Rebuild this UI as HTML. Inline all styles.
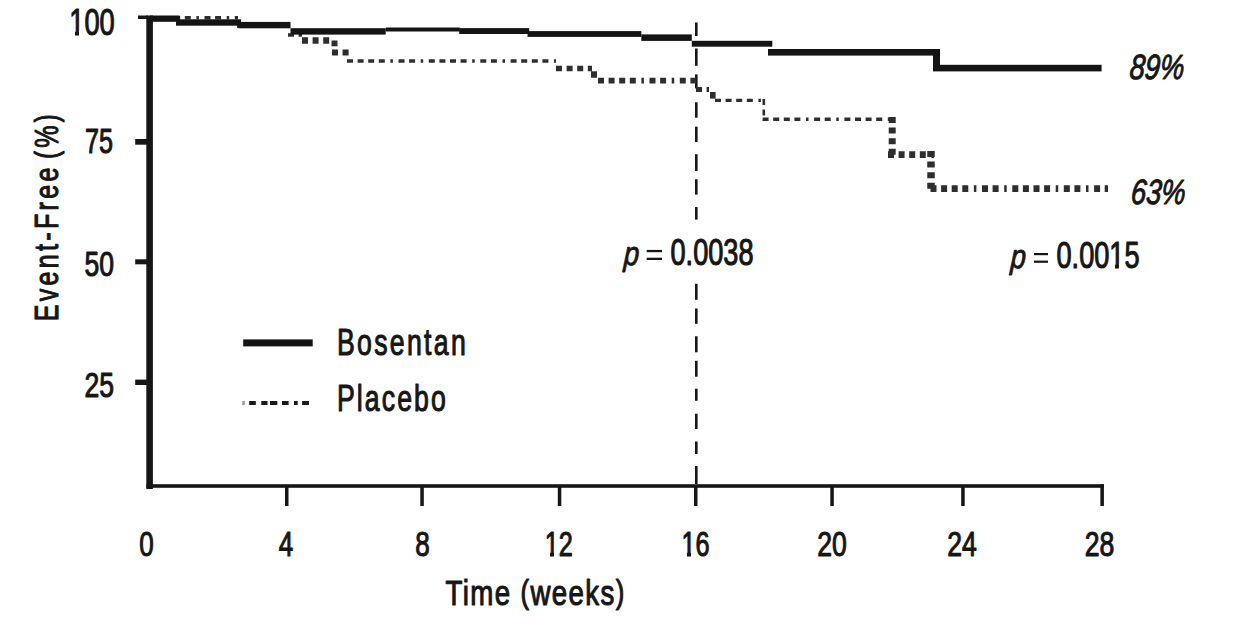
<!DOCTYPE html>
<html><head><meta charset="utf-8">
<style>
html,body{margin:0;padding:0;background:#fff;width:1234px;height:624px;overflow:hidden}
svg{position:absolute;left:0;top:0}
text{font-family:"Liberation Sans",sans-serif;fill:#161616;stroke:#161616;stroke-width:1.1;stroke-linejoin:round}
</style></head><body>
<svg width="1234" height="624" viewBox="0 0 1234 624">
<!-- axes -->
<g fill="#161616">
<rect x="146.3" y="15.5" width="6.6" height="473.5"/>
<rect x="146.3" y="484.2" width="957.6" height="3.6"/>
<!-- y ticks -->
<rect x="138" y="15.5" width="10" height="3.5"/>
<rect x="135.2" y="139" width="12" height="5.7"/>
<rect x="135.2" y="259.3" width="12" height="5"/>
<rect x="135.2" y="379.6" width="12" height="5.4"/>
<!-- x ticks -->
<rect x="285" y="486" width="3.5" height="20"/>
<rect x="420.3" y="486" width="3.5" height="20"/>
<rect x="557.8" y="486" width="3.5" height="20"/>
<rect x="694" y="486" width="3.5" height="20"/>
<rect x="830.3" y="486" width="3.5" height="20"/>
<rect x="961.2" y="486" width="3.5" height="20"/>
<rect x="1100.4" y="484.2" width="3.5" height="21.8"/>
</g>
<!-- dashed vertical line at 16 weeks -->
<g fill="#161616">
<rect x="695" y="22.5" width="2.6" height="13.5"/>
<rect x="695" y="48.5" width="2.6" height="17.3"/>
<rect x="695" y="74.4" width="2.6" height="14"/>
<rect x="695" y="102.3" width="2.6" height="15.4"/>
<rect x="695" y="126.7" width="2.6" height="15.4"/>
<rect x="695" y="154.2" width="2.6" height="16.8"/>
<rect x="695" y="179.2" width="2.6" height="15.4"/>
<rect x="695" y="207" width="2.6" height="12.6"/>
<rect x="695" y="283.8" width="2.6" height="16"/>
<rect x="695" y="308.5" width="2.6" height="15.3"/>
<rect x="695" y="336.3" width="2.6" height="16"/>
<rect x="695" y="360.8" width="2.6" height="15.9"/>
<rect x="695" y="388.7" width="2.6" height="12.1"/>
<rect x="695" y="413.7" width="2.6" height="15.3"/>
<rect x="695" y="441.5" width="2.6" height="12.5"/>
<rect x="695" y="466" width="2.6" height="18"/>
</g>
<!-- placebo curve -->
<g fill="none" stroke="#2e2e2e" stroke-dasharray="6 4.6 6 4.6 6 4.6 6 5.6 2.5 5.6 6 4.6 6 5.6 2.5 5.6">
<line x1="153" y1="17.8" x2="238" y2="17.8" stroke-width="3.5"/>
<line x1="237" y1="25" x2="290" y2="25" stroke-width="6"/>
<line x1="288" y1="35" x2="302" y2="35" stroke-width="3.5"/>
<line x1="302" y1="40.5" x2="332" y2="40.5" stroke-width="6.5"/>
<line x1="331.5" y1="43.4" x2="339" y2="43.4" stroke-width="5.8"/>
<line x1="332" y1="52.5" x2="351" y2="52.5" stroke-width="5.9"/>
<line x1="347" y1="61" x2="556" y2="61" stroke-width="3.4"/>
<line x1="556" y1="68.5" x2="592" y2="68.5" stroke-width="5.7"/>
<line x1="591" y1="74.5" x2="598" y2="74.5" stroke-width="6.5"/>
<line x1="598" y1="80.6" x2="696" y2="80.6" stroke-width="5.8"/>
<line x1="696" y1="89.5" x2="709" y2="89.5" stroke-width="5"/>
<line x1="710" y1="95.3" x2="715.6" y2="95.3" stroke-width="6.6"/>
<line x1="715" y1="100.4" x2="763" y2="100.4" stroke-width="3.4"/>
<line x1="763.8" y1="99" x2="763.8" y2="121" stroke-width="2.6"/>
<line x1="762.6" y1="119.2" x2="896" y2="119.2" stroke-width="3.4"/>
<line x1="892.2" y1="117" x2="892.2" y2="157" stroke-width="7"/>
<line x1="888" y1="154.6" x2="934" y2="154.6" stroke-width="6.7"/>
<line x1="931" y1="151" x2="931" y2="191" stroke-width="7.5"/>
<line x1="930.5" y1="188.6" x2="1108" y2="188.6" stroke-width="6.9"/>
</g>
<!-- bosentan curve -->
<g fill="#141414">
<rect x="150" y="15.5" width="29.6" height="6.3"/>
<rect x="176" y="19.3" width="65" height="6.4"/>
<rect x="238.5" y="21.9" width="52" height="6.4"/>
<rect x="290.5" y="28.2" width="95.2" height="6.4"/>
<rect x="385.7" y="27.5" width="74" height="4"/>
<rect x="459.2" y="28.1" width="70" height="5.9"/>
<rect x="527.5" y="31.1" width="113.8" height="5.8"/>
<rect x="641.3" y="34.4" width="50.5" height="6.5"/>
<rect x="691.8" y="40.8" width="80.5" height="5.9"/>
<rect x="768" y="49" width="171.5" height="6.6"/>
<rect x="933" y="49" width="7" height="22"/>
<rect x="933" y="64.8" width="168.6" height="6.6"/>
</g>
<!-- legend -->
<rect x="243.2" y="339.4" width="69.5" height="7" fill="#141414"/>
<g fill="#1a1a1a">
<rect x="242.3" y="401" width="2.5" height="4" fill="#999"/>
<rect x="249.2" y="401" width="6.6" height="4"/>
<rect x="261.3" y="401" width="6.2" height="4"/>
<rect x="270" y="401" width="7.3" height="4"/>
<rect x="282" y="401" width="6.6" height="4"/>
<rect x="294" y="401" width="3.7" height="4"/>
<rect x="302.1" y="401" width="6.9" height="4"/>
</g>
<!-- texts -->
<text x="139.3" y="555.9" font-size="35.3" textLength="14.5" lengthAdjust="spacingAndGlyphs">0</text>
<text x="278.8" y="555.9" font-size="35.3" textLength="14.5" lengthAdjust="spacingAndGlyphs">4</text>
<text x="415.3" y="555.9" font-size="35.3" textLength="14.5" lengthAdjust="spacingAndGlyphs">8</text>
<text x="544.7" y="555.9" font-size="35.3" textLength="28.1" lengthAdjust="spacingAndGlyphs">12</text>
<text x="681.5" y="555.9" font-size="35.3" textLength="28.1" lengthAdjust="spacingAndGlyphs">16</text>
<text x="817.2" y="555.9" font-size="35.3" textLength="29.6" lengthAdjust="spacingAndGlyphs">20</text>
<text x="947.2" y="555.9" font-size="35.3" textLength="29.6" lengthAdjust="spacingAndGlyphs">24</text>
<text x="1084.7" y="555.9" font-size="35.3" textLength="29.6" lengthAdjust="spacingAndGlyphs">28</text>
<text x="69.3" y="35.2" font-size="36" textLength="45.5" lengthAdjust="spacingAndGlyphs">100</text>
<text x="85" y="153.3" font-size="35" textLength="28" lengthAdjust="spacingAndGlyphs">75</text>
<text x="84.5" y="276.4" font-size="35" textLength="29.5" lengthAdjust="spacingAndGlyphs">50</text>
<text x="84.5" y="396.6" font-size="35" textLength="29.5" lengthAdjust="spacingAndGlyphs">25</text>
<text transform="translate(58.3,321.3) rotate(-90) scale(0.74,1)" font-size="34" letter-spacing="4.4">Event-Free <tspan dx="-6.4" font-size="31.5" dy="-1.2">(</tspan><tspan dy="1.2">%</tspan><tspan font-size="31.5" dy="-1.2">)</tspan></text>
<text transform="translate(445.5,604.8) scale(0.78,1)" font-size="35.5" letter-spacing="1.75">Time <tspan font-size="33" dy="-1.5">(</tspan><tspan dy="1.5">weeks</tspan><tspan font-size="33" dy="-1.5">)</tspan></text>
<text transform="translate(336.9,354.5) scale(0.73,1)" font-size="36.5" letter-spacing="3.2">Bosentan</text>
<text transform="translate(336.9,410.8) scale(0.73,1)" font-size="36.5" letter-spacing="2.9">Placebo</text>
<text transform="translate(623.5,264.5) skewX(-3) scale(0.82,1)" font-size="33.5" font-style="italic" style="stroke-width:0.9">p</text>
<rect x="646.7" y="249.9" width="15.3" height="2.3" fill="#161616"/>
<rect x="646.7" y="257.7" width="15.3" height="2.3" fill="#161616"/>
<text x="670.5" y="265" font-size="36" textLength="83" lengthAdjust="spacingAndGlyphs">0.0038</text>
<text transform="translate(1010.3,267.7) skewX(-3) scale(0.82,1)" font-size="33.5" font-style="italic" style="stroke-width:0.9">p</text>
<rect x="1034" y="253" width="14" height="2.2" fill="#161616"/>
<rect x="1034" y="260.6" width="14" height="2.2" fill="#161616"/>
<text x="1056.5" y="268" font-size="36" textLength="83" lengthAdjust="spacingAndGlyphs">0.0015</text>
<text transform="translate(1128.9,79.4) skewX(-5)" font-size="35" font-style="italic" style="stroke-width:1" textLength="54.5" lengthAdjust="spacingAndGlyphs">89%</text>
<text transform="translate(1130.3,204) skewX(-5)" font-size="35" font-style="italic" style="stroke-width:1" textLength="54.5" lengthAdjust="spacingAndGlyphs">63%</text>
<g fill="#fff">
<rect x="544.5" y="551.6" width="5.5" height="5.6"/><rect x="554" y="551.6" width="4.3" height="5.6"/>
<rect x="681.5" y="551.6" width="5.5" height="5.6"/><rect x="691" y="551.6" width="4.6" height="5.6"/>
<rect x="69.5" y="30.6" width="5.5" height="5.6"/><rect x="79" y="30.6" width="5.3" height="5.6"/>
<rect x="1109.5" y="263.6" width="5.5" height="5.6"/><rect x="1119" y="263.6" width="5.2" height="5.6"/>
</g>
</svg>
</body></html>
